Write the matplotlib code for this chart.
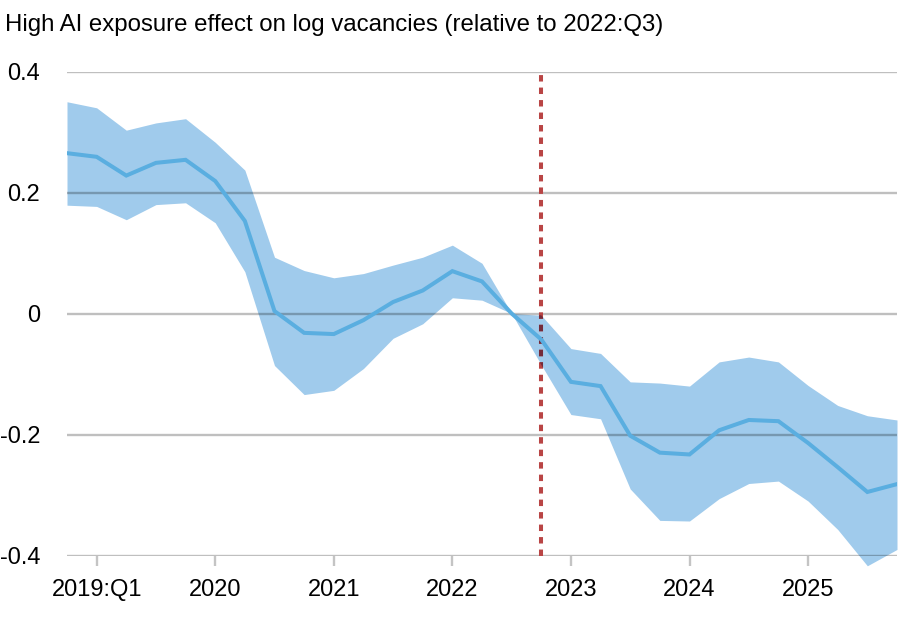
import matplotlib
matplotlib.use("Agg")
import matplotlib.pyplot as plt
import numpy as np

plt.rcParams['font.family'] = ['Liberation Sans', 'DejaVu Sans']

quarters = ["2018:Q4",
            "2019:Q1", "2019:Q2", "2019:Q3", "2019:Q4",
            "2020:Q1", "2020:Q2", "2020:Q3", "2020:Q4",
            "2021:Q1", "2021:Q2", "2021:Q3", "2021:Q4",
            "2022:Q1", "2022:Q2", "2022:Q3", "2022:Q4",
            "2023:Q1", "2023:Q2", "2023:Q3", "2023:Q4",
            "2024:Q1", "2024:Q2", "2024:Q3", "2024:Q4",
            "2025:Q1", "2025:Q2", "2025:Q3", "2025:Q4"]
estimate = [0.265, 0.259, 0.228, 0.249, 0.254,
            0.219, 0.153, 0.004, -0.032,
            -0.034, -0.011, 0.019, 0.038,
            0.070, 0.053, 0.000, -0.043,
            -0.113, -0.120, -0.202, -0.230,
            -0.233, -0.193, -0.176, -0.178,
            -0.214, -0.254, -0.295, -0.282]
upper = [0.350, 0.340, 0.303, 0.315, 0.322,
         0.283, 0.237, 0.093, 0.071,
         0.059, 0.066, 0.080, 0.093,
         0.113, 0.083, 0.000, -0.003,
         -0.058, -0.066, -0.113, -0.115,
         -0.120, -0.080, -0.072, -0.080,
         -0.119, -0.152, -0.169, -0.176]
lower = [0.179, 0.177, 0.155, 0.180, 0.183,
         0.150, 0.069, -0.086, -0.134,
         -0.127, -0.091, -0.041, -0.017,
         0.026, 0.022, 0.000, -0.085,
         -0.167, -0.174, -0.290, -0.342,
         -0.343, -0.306, -0.281, -0.277,
         -0.310, -0.357, -0.417, -0.390]
year_ticks = ["2019:Q1", "2020:Q1", "2021:Q1", "2022:Q1", "2023:Q1", "2024:Q1", "2025:Q1"]
year_labels = ["2019:Q1", "2020", "2021", "2022", "2023", "2024", "2025"]
y_ticks = [-0.4, -0.2, 0.0, 0.2, 0.4]
y_labels = ["-0.4", "-0.2", "0", "0.2", "0.4"]
ref_quarter = "2022:Q4"
title = "High AI exposure effect on log vacancies (relative to 2022:Q3)"


def qnum(s):
    y, q = s.split(":Q")
    return int(y) + (int(q) - 1) / 4.0


x = np.array([qnum(s) for s in quarters])

W, H = 920, 622
FS = 17
fig = plt.figure(figsize=(W / 100, H / 100), dpi=100)
ax = fig.add_axes([67 / W, 1 - 555.5 / H, (897 - 67) / W, (555.5 - 71.5) / H])

band = ax.fill_between(x, lower, upper, color="#a0cbec", linewidth=0, zorder=1, clip_on=False)

for yt in y_ticks:
    ax.axhline(yt, color="black", alpha=0.25, linewidth=1.7, zorder=2)

xr = qnum(ref_quarter)
red = "#b94545"
ax.plot([xr, xr], [-0.4, 0.4], color=red, linewidth=2.9,
        linestyle=(0, (1.6, 1.5)), dash_capstyle="butt", zorder=3)
inner, = ax.plot([xr, xr], [-0.4, 0.4], color="#742b3a", linewidth=2.9,
                 linestyle=(0, (1.6, 1.5)), dash_capstyle="butt", zorder=3.5)
inner.set_clip_path(band.get_paths()[0], ax.transData)

ax.plot(x, estimate, color="#5aaee0", linewidth=2.9, zorder=4, solid_joinstyle="miter")

ax.set_xlim(x[0], x[-1])
ax.set_ylim(-0.4, 0.4)
for s in ax.spines.values():
    s.set_visible(False)

ax.set_xticks([qnum(s) for s in year_ticks])
ax.set_xticklabels(year_labels, fontsize=FS)
ax.tick_params(axis="x", length=7.5, width=1.7, color="#c4c4c4", pad=9.5)
ax.set_yticks(y_ticks)
ax.set_yticklabels(y_labels, fontsize=FS)
ax.tick_params(axis="y", length=0, pad=19.4)

fig.text(5 / W, 1 - 25 / H, title, fontsize=17.3, va="center", ha="left")

fig.savefig("out.png", dpi=100)
